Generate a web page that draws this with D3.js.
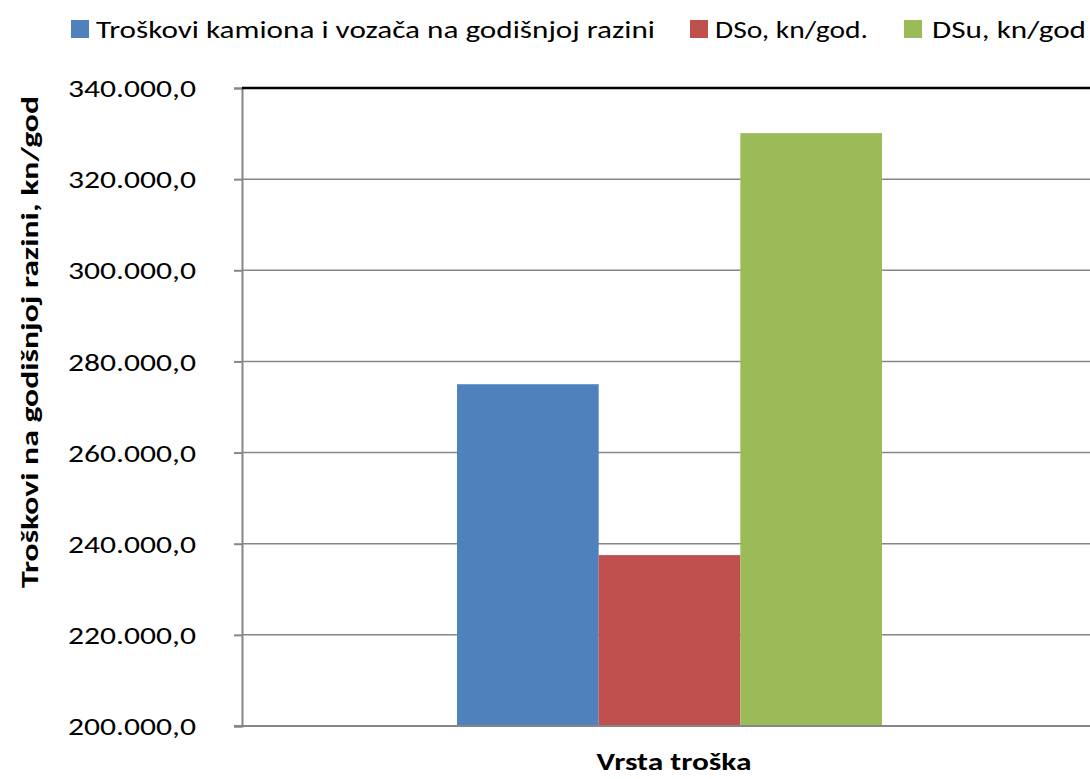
<!DOCTYPE html>
<html>
<head>
<meta charset="utf-8">
<script src="https://cdn.jsdelivr.net/npm/d3@7"></script>
<style>
  body { margin: 0; background: #fff; }
  text { font-family: Carlito, Calibri, Lato, "Open Sans", sans-serif; }
</style>
</head>
<body>
<script>
var width = 1090,
    height = 779;

// chart data
const categories = ["Vrsta troška"];
const seriesNames = ["Troškovi kamiona i vozača na godišnjoj razini", "DSo, kn/god.", "DSu, kn/god"];
const seriesValues = [275000, 237500, 330100];
const seriesColors = ["#4f81bd", "#c0504d", "#9bbb59"];
const yTicks = [200000, 220000, 240000, 260000, 280000, 300000, 320000, 340000];

const margin = { left: 242, top: 88, right: 1097, bottom: 726 };

const svg = d3.select("body")
    .append("svg")
    .attr("width", width)
    .attr("height", height);

const y = d3.scaleLinear()
    .domain([200000, 340000])
    .range([margin.bottom, margin.top]);

// one category, bars take about half of the band
const x0 = d3.scaleBand()
    .domain(categories)
    .range([margin.left, margin.right])
    .paddingInner(0)
    .paddingOuter(0.506);

const x1 = d3.scaleBand()
    .domain(seriesNames)
    .range([0, x0.bandwidth()]);

const fmt = v => d3.format(",.1f")(v).replace(/,/g, "#").replace(".", ",").replace(/#/g, ".");

// gridlines
svg.append("g")
    .selectAll("line")
    .data(yTicks.slice(1, -1))
    .enter()
    .append("line")
    .attr("x1", margin.left)
    .attr("x2", margin.right)
    .attr("y1", d => y(d))
    .attr("y2", d => y(d))
    .attr("stroke", "#868686")
    .attr("stroke-width", 1.5);

// y axis
const yAxis = d3.axisLeft(y)
    .tickValues(yTicks)
    .tickSize(8)
    .tickPadding(38)
    .tickFormat(fmt);

const gy = svg.append("g")
    .attr("transform", "translate(" + margin.left + ",0)")
    .call(yAxis);

gy.attr("font-size", null).attr("font-family", null);
gy.select(".domain").attr("stroke", "#868686").attr("stroke-width", 2);
gy.selectAll(".tick line").attr("stroke", "#868686").attr("stroke-width", 2);
gy.selectAll(".tick text")
    .attr("x", -46)
    .attr("dy", "0.36em")
    .attr("font-size", 24)
    .attr("fill", "#000")
    .attr("textLength", 128)
    .attr("lengthAdjust", "spacingAndGlyphs");

// bars
svg.append("g")
    .selectAll("rect")
    .data(seriesValues.map((v, i) => ({ name: seriesNames[i], value: v, color: seriesColors[i], cat: categories[0] })))
    .enter()
    .append("rect")
    .attr("x", d => x0(d.cat) + x1(d.name))
    .attr("width", x1.bandwidth())
    .attr("y", d => y(d.value))
    .attr("height", d => y(200000) - y(d.value))
    .attr("fill", d => d.color);

// bottom axis line
svg.append("line")
    .attr("x1", margin.left - 8)
    .attr("x2", margin.right)
    .attr("y1", y(200000))
    .attr("y2", y(200000))
    .attr("stroke", "#868686")
    .attr("stroke-width", 2);

// top border
svg.append("line")
    .attr("x1", margin.left)
    .attr("x2", margin.right)
    .attr("y1", y(340000))
    .attr("y2", y(340000))
    .attr("stroke", "#000")
    .attr("stroke-width", 2.5);

// axis titles
svg.append("text")
    .attr("transform", "translate(38,342) rotate(-90)")
    .attr("text-anchor", "middle")
    .attr("font-size", 24)
    .attr("font-weight", "bold")
    .attr("textLength", 492)
    .attr("lengthAdjust", "spacingAndGlyphs")
    .text("Troškovi na godišnjoj razini, kn/god");

svg.append("text")
    .attr("x", 674)
    .attr("y", 770)
    .attr("text-anchor", "middle")
    .attr("font-size", 24)
    .attr("font-weight", "bold")
    .attr("textLength", 155)
    .attr("lengthAdjust", "spacingAndGlyphs")
    .text("Vrsta troška");

// legend
const legendPos = [
    { sx: 71, tx: 96, tw: 559 },
    { sx: 690, tx: 715, tw: 153 },
    { sx: 904, tx: 932, tw: 154 }
];

const legend = svg.append("g")
    .selectAll("g")
    .data(seriesNames)
    .enter()
    .append("g");

legend.append("rect")
    .attr("x", (d, i) => legendPos[i].sx)
    .attr("y", 20)
    .attr("width", 18)
    .attr("height", 18)
    .attr("fill", (d, i) => seriesColors[i]);

legend.append("text")
    .attr("x", (d, i) => legendPos[i].tx)
    .attr("y", 38)
    .attr("font-size", 25)
    .attr("textLength", (d, i) => legendPos[i].tw)
    .attr("lengthAdjust", "spacingAndGlyphs")
    .text(d => d);
</script>
</body>
</html>
